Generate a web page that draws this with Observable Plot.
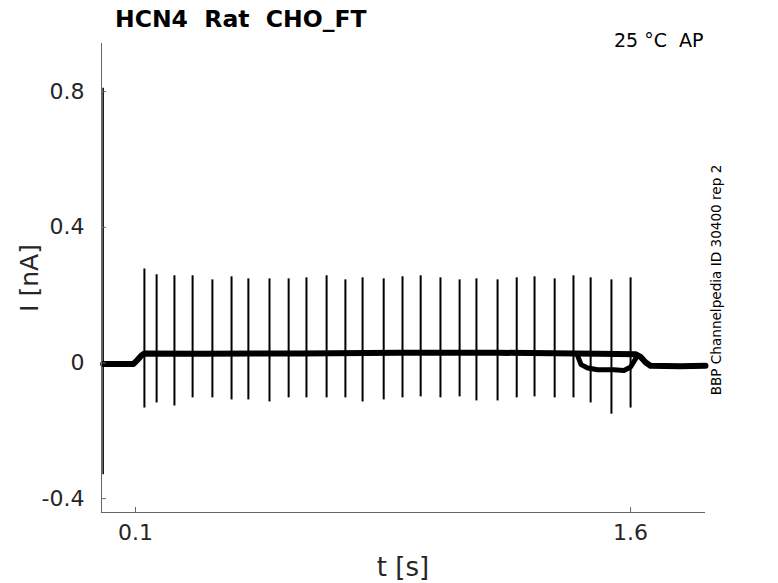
<!DOCTYPE html>
<html><head><meta charset="utf-8">
<script src="https://cdn.jsdelivr.net/npm/d3@7"></script>
<script src="https://cdn.jsdelivr.net/npm/@observablehq/plot@0.6"></script>
<style>body{margin:0;background:#fff}svg{font-family:"DejaVu Sans",sans-serif}</style>
</head><body><div id="chart"></div>
<script>
const xTicks = [0.1, 1.6];
const xTickLabels = ["0.1", "1.6"];
const yTicks = [0.8, 0.4, 0, -0.4];
const yTickLabels = ["0.8", "0.4", "0", "-0.4"];

const spikeT = [0.127,0.164,0.218,0.273,0.333,0.391,0.442,0.506,0.564,0.618,0.679,0.736,0.788,0.852,0.909,0.964,1.024,1.082,1.133,1.197,1.255,1.309,1.370,1.427,1.479,1.542,1.600];
const spikeTop = [0.277,0.260,0.257,0.257,0.245,0.254,0.248,0.248,0.248,0.251,0.257,0.245,0.251,0.248,0.254,0.257,0.251,0.245,0.248,0.245,0.251,0.254,0.248,0.257,0.251,0.245,0.251];
const spikeBottom = [-0.133,-0.118,-0.127,-0.103,-0.103,-0.109,-0.109,-0.115,-0.103,-0.103,-0.103,-0.103,-0.115,-0.109,-0.103,-0.100,-0.103,-0.100,-0.112,-0.112,-0.103,-0.100,-0.103,-0.103,-0.118,-0.151,-0.133];

const traceT = [0.002,0.094,0.105,0.118,0.127,0.3,0.6,0.9,1.2,1.5,1.615,1.63,1.645,1.66,1.75,1.827];
const traceI = [-0.003,-0.003,0.008,0.022,0.028,0.027,0.028,0.030,0.030,0.027,0.026,0.018,0.002,-0.008,-0.010,-0.008];

const dipT = [1.44,1.45,1.47,1.50,1.55,1.58,1.60,1.62];
const dipI = [0.02,-0.005,-0.015,-0.02,-0.02,-0.022,-0.012,0.02];

const transientT = 0.002, transientLo = -0.33, transientHi = 0.81;

const xDomain = [-0.003, 1.827];
const yDomain = [-0.441, 0.942];

const spikes = spikeT.map((t,i)=>({t, top: spikeTop[i], bot: spikeBottom[i]}));
const trace = traceT.map((t,i)=>({t, I: traceI[i]}));
const dip = dipT.map((t,i)=>({t, I: dipI[i]}));
const tickLen = 5/330;

const plot = Plot.plot({
  width: 778, height: 583,
  marginLeft: 101, marginRight: 73, marginTop: 43, marginBottom: 71,
  style: {fontFamily: "DejaVu Sans, sans-serif", background: "#fff"},
  x: {domain: xDomain},
  y: {domain: yDomain},
  marks: [
    Plot.line(trace, {x: "t", y: "I", stroke: "#000", strokeWidth: 6}),
    Plot.line(dip, {x: "t", y: "I", stroke: "#000", strokeWidth: 5}),
    Plot.ruleX(spikes, {x: "t", y1: "bot", y2: "top", stroke: "#000", strokeWidth: 2}),
    Plot.ruleX([transientT], {y1: transientLo, y2: transientHi, stroke: "#000", strokeWidth: 1.5}),
    Plot.ruleX([xDomain[0]], {stroke: "#666", strokeWidth: 1}),
    Plot.ruleY([yDomain[0]], {stroke: "#666", strokeWidth: 1}),
    Plot.ruleY(yTicks, {x1: xDomain[0], x2: xDomain[0] + tickLen, stroke: "#666"}),
    Plot.ruleX(xTicks, {y1: yDomain[0], y2: yDomain[0] + 5/338.75, stroke: "#666"}),
    Plot.axisY(yTicks, {tickSize: 0, tickPadding: 17, fontSize: 22, color: "#262626", tickFormat: (d,i)=>yTickLabels[i], label: null}),
    Plot.axisX(xTicks, {tickSize: 0, tickPadding: 12, fontSize: 22, color: "#262626", tickFormat: (d,i)=>xTickLabels[i], label: null})
  ]
});
document.getElementById("chart").appendChild(plot);
const svg = d3.select(plot);
svg.append("text").attr("x", 115).attr("y", 27).attr("text-anchor", "start").attr("font-size", 23.5).attr("font-weight", "bold").attr("fill", "#000").style("white-space","pre").text("HCN4  Rat  CHO_FT");
svg.append("text").attr("x", 614).attr("y", 47).attr("text-anchor", "start").attr("font-size", 19).attr("fill", "#000").style("white-space","pre").text("25 °C  AP");
svg.append("text").attr("transform", "translate(721,280) rotate(-90)").attr("text-anchor", "middle").attr("font-size", 13.6).attr("fill", "#000").text("BBP Channelpedia ID 30400 rep 2");
svg.append("text").attr("transform", "translate(38,278) rotate(-90)").attr("text-anchor", "middle").attr("font-size", 25).attr("fill", "#262626").text("I [nA]");
svg.append("text").attr("x", 403).attr("y", 576).attr("text-anchor", "middle").attr("font-size", 26).attr("fill", "#262626").text("t [s]");
</script></body></html>
